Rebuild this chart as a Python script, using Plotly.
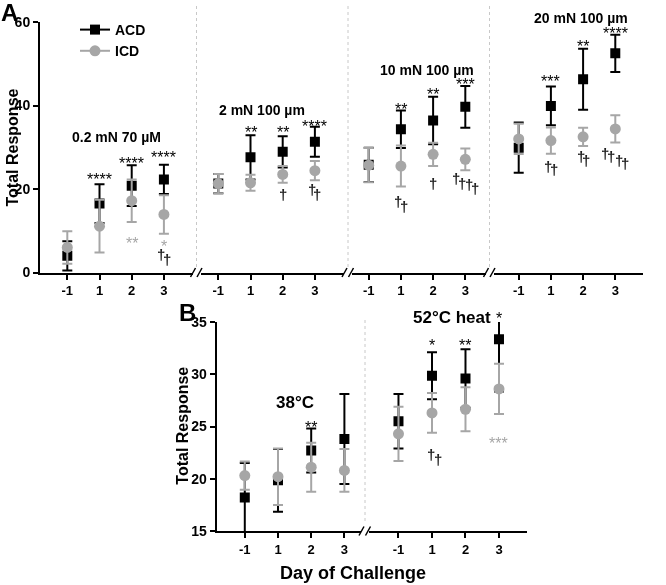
import plotly.graph_objects as go

FONT = "Liberation Sans, Arial, sans-serif"
BLACK = "#000000"
GRAY = "#A6A6A6"
DAG = "#222222"
W, H = 666, 585

days = ["-1", "1", "2", "3"]

# ---------- Panel A (mechanical) ----------
a_titles = ["0.2 mN 70 µM", "2 mN 100 µm", "10 mN 100 µm", "20 mN 100 µm"]
a_title_pos = [(1.53, 32.5), (1.35, 38.9), (1.8, 48.5), (1.93, 61.0)]
a_acd_mean = [[4.0, 16.5, 20.8, 22.3], [21.3, 27.6, 28.9, 31.3],
              [25.8, 34.3, 36.4, 39.7], [29.9, 39.9, 46.3, 52.5]]
a_acd_sd = [[3.5, 4.65, 4.9, 3.5], [2.3, 5.3, 3.75, 3.6],
            [4.1, 4.5, 5.7, 5.0], [6.0, 4.65, 7.3, 4.45]]
a_icd_mean = [[6.0, 11.1, 17.2, 13.9], [21.3, 21.5, 23.5, 24.4],
              [25.7, 25.5, 28.3, 27.1], [32.0, 31.6, 32.5, 34.4]]
a_icd_sd = [[3.9, 6.3, 5.1, 4.6], [2.3, 1.9, 2.0, 2.3],
            [4.1, 4.9, 2.8, 2.6], [3.6, 3.15, 2.2, 3.25]]
a_star_text = [["", "****", "****", "****"], ["", "**", "**", "****"],
               ["", "**", "**", "***"], ["", "***", "**", "****"]]
a_star_y = [[None, 23.2, 27.1, 28.4], [None, 34.6, 34.6, 36.0],
            [None, 40.1, 43.5, 45.9], [None, 46.8, 55.0, 58.1]]
a_icd_star_text = [["", "", "**", "*"], ["", "", "", ""], ["", "", "", ""], ["", "", "", ""]]
a_icd_star_y = [[None, None, 8.0, 7.1], [None] * 4, [None] * 4, [None] * 4]
a_daggers = [(0, 2.9, 4.2), (0, 3.09, 3.2),
             (1, 2.0, 18.6), (1, 2.9, 19.8), (1, 3.07, 18.6),
             (2, 0.91, 16.9), (2, 1.09, 15.9), (2, 2.0, 21.4),
             (2, 2.71, 22.6), (2, 2.89, 21.4), (2, 3.12, 21.0), (2, 3.31, 20.2),
             (3, 0.92, 25.3), (3, 1.11, 24.6), (3, 1.93, 27.7), (3, 2.09, 26.8),
             (3, 2.68, 28.4), (3, 2.87, 27.7), (3, 3.12, 26.9), (3, 3.3, 26.2)]
a_yticks = [0, 20, 40, 60]

# ---------- Panel B (heat) ----------
b_titles = ["38°C", "52°C heat"]
b_title_pos = [(1.51, 27.3), (1.59, 35.4)]
b_acd_mean = [[18.2, 19.85, 22.7, 23.8], [25.5, 29.85, 29.6, 33.35]]
b_acd_sd = [[3.3, 3.0, 2.1, 4.3], [2.6, 2.25, 2.8, 5.0]]
b_icd_mean = [[20.3, 20.2, 21.1, 20.8], [24.3, 26.3, 26.65, 28.6]]
b_icd_sd = [[1.35, 2.7, 2.35, 2.05], [2.6, 1.9, 2.1, 2.4]]
b_star_text = [["", "", "**", ""], ["", "*", "**", "*"]]
b_star_y = [[None, None, 25.3, None], [None, 33.1, 33.1, 35.7]]
b_icd_star_text = [["", "", "", ""], ["", "", "", "***"]]
b_icd_star_y = [[None] * 4, [None, None, None, 23.8]]
b_daggers = [(1, 0.97, 22.35), (1, 1.19, 21.8)]
b_yticks = [15, 20, 25, 30, 35]

xpos = list(range(len(days)))

# layout geometry (page pixels)
a_dom = [(40, 192.5), (200.5, 344), (352, 485.5), (493.5, 643.3)]
a_rng = [(-0.848, 3.888), (-0.553, 3.904), (-0.519, 3.627), (-0.783, 3.870)]
b_dom = [(216.7, 361), (369, 526.7)]
b_rng = [(-0.846, 3.5), (-0.88, 3.827)]
a_ydom = (272.5, 22)
b_ydom = (531, 322)


def px(x):
    return x / W


def py(y):
    return 1 - y / H


a_x = ["x", "x2", "x3", "x4"]
b_x = ["x5", "x6"]

fig = go.Figure()


def add_pair(xa, ya, am, asd, im, isd):
    fig.add_trace(go.Scatter(
        x=xpos, y=am, mode="markers", xaxis=xa, yaxis=ya, showlegend=False,
        marker=dict(symbol="square", size=10, color=BLACK),
        error_y=dict(type="data", array=asd, color=BLACK, thickness=2, width=5),
        hoverinfo="skip"))
    fig.add_trace(go.Scatter(
        x=xpos, y=im, mode="markers", xaxis=xa, yaxis=ya, showlegend=False,
        marker=dict(symbol="circle", size=11, color=GRAY),
        error_y=dict(type="data", array=isd, color=GRAY, thickness=2, width=5),
        hoverinfo="skip"))


for p in range(4):
    add_pair(a_x[p], "y", a_acd_mean[p], a_acd_sd[p], a_icd_mean[p], a_icd_sd[p])
for p in range(2):
    add_pair(b_x[p], "y2", b_acd_mean[p], b_acd_sd[p], b_icd_mean[p], b_icd_sd[p])

# legend entries
fig.add_trace(go.Scatter(x=[None], y=[None], mode="lines+markers", name="ACD",
                         marker=dict(symbol="square", size=10, color=BLACK),
                         line=dict(color=BLACK, width=2), xaxis="x", yaxis="y"))
fig.add_trace(go.Scatter(x=[None], y=[None], mode="lines+markers", name="ICD",
                         marker=dict(symbol="circle", size=11, color=GRAY),
                         line=dict(color=GRAY, width=2), xaxis="x", yaxis="y"))


def xaxis_cfg(dom, rng, anchor):
    return dict(domain=[px(dom[0]), px(dom[1])], range=list(rng), anchor=anchor,
                tickmode="array", tickvals=xpos, ticktext=days,
                showline=True, linewidth=2, linecolor=BLACK,
                ticks="outside", ticklen=5, tickwidth=2, tickcolor=BLACK,
                showgrid=False, zeroline=False, automargin=False, fixedrange=True,
                tickfont=dict(family=FONT, size=13, color=BLACK, weight="bold"))


def yaxis_cfg(dom, rng, anchor, ticks):
    return dict(domain=[py(dom[0]), py(dom[1])], range=list(rng), anchor=anchor,
                tickmode="array", tickvals=ticks, ticktext=[str(t) for t in ticks],
                showline=True, linewidth=2, linecolor=BLACK,
                ticks="outside", ticklen=5, tickwidth=2, tickcolor=BLACK,
                showgrid=False, zeroline=False, automargin=False, fixedrange=True,
                tickfont=dict(family=FONT, size=14, color=BLACK, weight="bold"))


lay = {}
for p in range(4):
    key = "xaxis" if p == 0 else "xaxis%d" % (p + 1)
    lay[key] = xaxis_cfg(a_dom[p], a_rng[p], "y")
for p in range(2):
    lay["xaxis%d" % (p + 5)] = xaxis_cfg(b_dom[p], b_rng[p], "y2")
lay["yaxis"] = yaxis_cfg(a_ydom, (0, 60), "x", a_yticks)
lay["yaxis2"] = yaxis_cfg(b_ydom, (15, 35), "x5", b_yticks)

ann = []


def txt(text, x, y, xref, yref, size, color=BLACK, bold=True, **kw):
    d = dict(text=text, x=x, y=y, xref=xref, yref=yref, showarrow=False,
             xanchor="center", yanchor="middle",
             font=dict(family=FONT, size=size, color=color, weight="bold" if bold else "normal"))
    d.update(kw)
    ann.append(d)


def clamp_shift(yv, hi, pxu):
    # keep annotation anchor inside axis range, shift the text in pixels
    if yv > hi:
        return hi, (yv - hi) * pxu
    return yv, 0


A_PXU = (a_ydom[0] - a_ydom[1]) / 60.0
B_PXU = (b_ydom[0] - b_ydom[1]) / 20.0

for p in range(4):
    yv, sh = clamp_shift(a_title_pos[p][1], 60, A_PXU)
    txt(a_titles[p], a_title_pos[p][0], yv, a_x[p], "y", 14, yshift=sh)
    for i in xpos:
        if a_star_text[p][i]:
            txt(a_star_text[p][i], i, a_star_y[p][i], a_x[p], "y", 16, BLACK, False, yshift=-4)
        if a_icd_star_text[p][i]:
            txt(a_icd_star_text[p][i], i, a_icd_star_y[p][i], a_x[p], "y", 16, GRAY, False, yshift=-4)
for (p, xv, yv) in a_daggers:
    txt("†", xv, yv, a_x[p], "y", 15, DAG, True)

for p in range(2):
    yv, sh = clamp_shift(b_title_pos[p][1], 35, B_PXU)
    txt(b_titles[p], b_title_pos[p][0], yv, b_x[p], "y2", 17, yshift=sh)
    for i in xpos:
        if b_star_text[p][i]:
            yv, sh = clamp_shift(b_star_y[p][i], 35, B_PXU)
            txt(b_star_text[p][i], i, yv, b_x[p], "y2", 16, BLACK, False, yshift=sh - 4)
        if b_icd_star_text[p][i]:
            txt(b_icd_star_text[p][i], i, b_icd_star_y[p][i], b_x[p], "y2", 16, GRAY, False, yshift=-4)
for (p, xv, yv) in b_daggers:
    txt("†", xv, yv, b_x[p], "y2", 15, DAG, True)

# axis titles and panel letters
txt("Total Response", px(12), py(147.5), "paper", "paper", 16, textangle=-90)
txt("Total Response", px(181.7), py(426), "paper", "paper", 16, textangle=-90)
txt("Day of Challenge", px(353.5), py(573), "paper", "paper", 18)
txt("A", px(9.5), py(12), "paper", "paper", 24)
txt("B", px(187), py(312), "paper", "paper", 24)

# decorations: dotted separators and axis break marks
shapes = []
for cx in [196.5, 348, 489.5]:
    shapes.append(dict(type="line", xref="paper", yref="paper", x0=px(cx), x1=px(cx),
                       y0=py(6), y1=py(268), line=dict(color="#C8C8C8", width=1, dash="dot")))
shapes.append(dict(type="line", xref="paper", yref="paper", x0=px(365), x1=px(365),
                   y0=py(320), y1=py(524), line=dict(color="#C8C8C8", width=1, dash="dot")))
for (cx, cy) in [(196.5, 272.5), (348, 272.5), (489.5, 272.5), (365, 531)]:
    for dx in (-3.5, 3.0):
        shapes.append(dict(type="line", xref="paper", yref="paper",
                           x0=px(cx + dx - 2.5), y0=py(cy + 4.5),
                           x1=px(cx + dx + 2.5), y1=py(cy - 4.5),
                           line=dict(color=BLACK, width=1.5)))

fig.update_layout(
    width=W, height=H, margin=dict(l=0, r=0, t=0, b=0),
    paper_bgcolor="white", plot_bgcolor="white",
    annotations=ann, shapes=shapes, hovermode=False,
    legend=dict(x=px(75), y=py(14), xanchor="left", yanchor="top",
                bgcolor="rgba(0,0,0,0)", tracegroupgap=0, itemwidth=30,
                font=dict(family=FONT, size=14, color=BLACK, weight="bold")),
    **lay)

post = ("document.body.style.margin='0';"
        "document.querySelectorAll('.main-svg').forEach(function(s){s.style.willChange='transform';});")
fig.write_html("out.html", post_script=post, config={"displayModeBar": False})
